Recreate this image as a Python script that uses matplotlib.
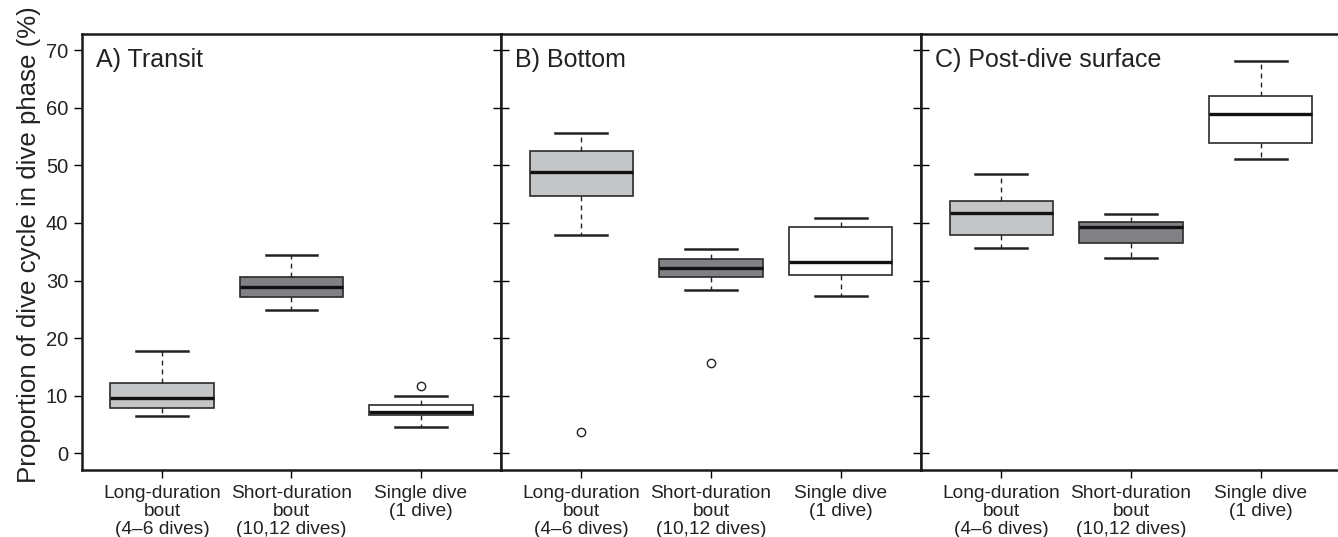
import matplotlib
matplotlib.use("Agg")
import matplotlib.pyplot as plt

plt.rcParams['font.family'] = ['Liberation Sans', 'DejaVu Sans']

categories = ["Long-duration\nbout\n(4\u20136 dives)",
              "Short-duration\nbout\n(10,12 dives)",
              "Single dive\n(1 dive)"]
panel_titles = ["A) Transit", "B) Bottom", "C) Post-dive surface"]
ylabel = "Proportion of dive cycle in dive phase (%)"
yticks = [0, 10, 20, 30, 40, 50, 60, 70]

# per panel: [long, short, single]
transit_whislo = [6.5, 24.8, 4.6]
transit_q1 = [7.8, 27.2, 6.65]
transit_med = [9.55, 28.9, 7.1]
transit_q3 = [12.2, 30.65, 8.45]
transit_whishi = [17.8, 34.4, 9.9]
transit_fliers = [[], [], [11.7]]

bottom_whislo = [37.9, 28.4, 27.25]
bottom_q1 = [44.7, 30.65, 30.9]
bottom_med = [48.9, 32.2, 33.15]
bottom_q3 = [52.5, 33.8, 39.3]
bottom_whishi = [55.6, 35.4, 40.9]
bottom_fliers = [[3.75], [15.7], []]

post_whislo = [35.6, 33.95, 51.1]
post_q1 = [37.95, 36.5, 53.8]
post_med = [41.7, 39.3, 58.95]
post_q3 = [43.85, 40.2, 62.0]
post_whishi = [48.5, 41.6, 68.1]
post_fliers = [[], [], []]

panels = [
    (transit_whislo, transit_q1, transit_med, transit_q3, transit_whishi, transit_fliers),
    (bottom_whislo, bottom_q1, bottom_med, bottom_q3, bottom_whishi, bottom_fliers),
    (post_whislo, post_q1, post_med, post_q3, post_whishi, post_fliers),
]

box_colors = ["#c4c5c7", "#818185", "#ffffff"]
edge = "#2a2a2a"

W, H = 1338, 537
fig = plt.figure(figsize=(W / 100, H / 100), dpi=100)

lefts = [82, 501, 921]
rights = [501, 921, 1341]
top_px, bot_px = 34, 470

for i, (wl, q1, md, q3, wh, fl) in enumerate(panels):
    l, r = lefts[i], rights[i]
    ax = fig.add_axes([l / W, 1 - bot_px / H, (r - l) / W, (bot_px - top_px) / H])
    stats = []
    for j in range(3):
        stats.append(dict(whislo=wl[j], q1=q1[j], med=md[j], q3=q3[j],
                          whishi=wh[j], fliers=fl[j]))
    bp = ax.bxp(stats, positions=[1, 2, 3], widths=0.8, patch_artist=True,
                showfliers=True,
                boxprops=dict(edgecolor=edge, linewidth=1.2),
                medianprops=dict(color="#111111", linewidth=2.4),
                whiskerprops=dict(color="#222222", linewidth=1.0, linestyle=(0, (3.5, 3))),
                capprops=dict(color="#222222", linewidth=1.8),
                capwidths=0.4,
                flierprops=dict(marker='o', markersize=6, markerfacecolor='none',
                                markeredgecolor='#222222', markeredgewidth=1.0))
    for patch, c in zip(bp['boxes'], box_colors):
        patch.set_facecolor(c)
    ax.set_xlim(0.38, 3.62)
    ax.set_ylim(-2.9, 72.8)
    ax.set_yticks(yticks)
    ax.set_xticks([1, 2, 3])
    ax.set_xticklabels(categories, fontsize=13.8, linespacing=1.08, color="#222222")
    for s in ax.spines.values():
        s.set_linewidth(1.8)
        s.set_color("#1a1a1a")
    ax.tick_params(axis='x', direction='out', length=6, width=1.0, pad=5)
    if i == 0:
        ax.tick_params(axis='y', direction='out', length=6, width=1.0, pad=4,
                       labelsize=14.5, labelcolor="#222222")
        ax.set_ylabel(ylabel, fontsize=18.6, color="#222222")
        ax.yaxis.set_label_coords(-0.099, 0.518)
    else:
        ax.tick_params(axis='y', direction='inout', length=12, width=1.0,
                       labelleft=False)
    ax.text(0.034, 0.94, panel_titles[i], transform=ax.transAxes,
            ha='left', va='center', fontsize=18, color="#222222")

fig.savefig("out.png", dpi=100)
